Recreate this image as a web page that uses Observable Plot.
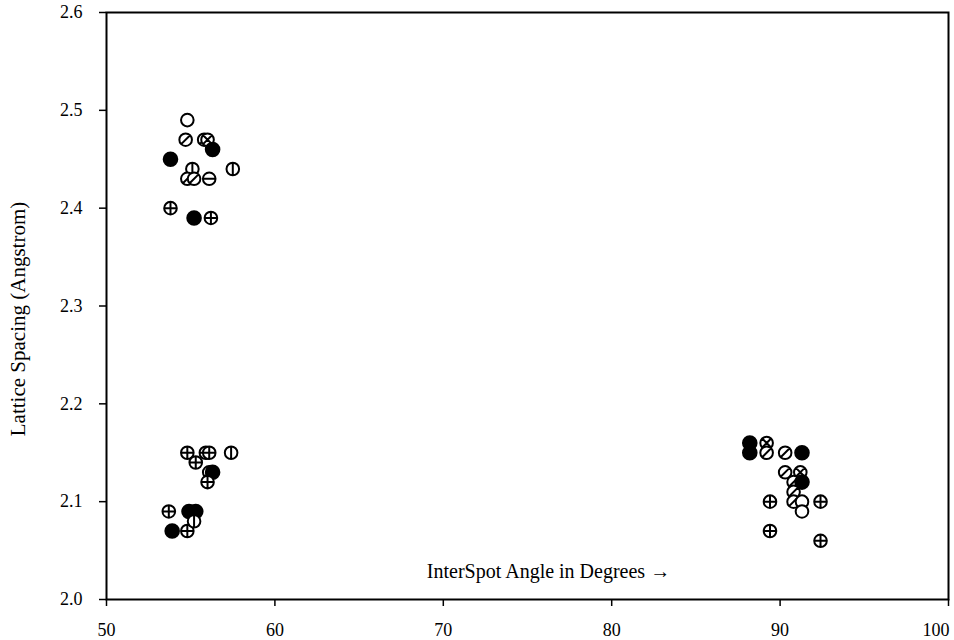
<!DOCTYPE html>
<html>
<head>
<meta charset="utf-8">
<script src="https://cdn.jsdelivr.net/npm/d3@7"></script>
<script src="https://cdn.jsdelivr.net/npm/@observablehq/plot@0.6"></script>
<style>
  html, body { margin: 0; padding: 0; background: #fff; }
  #chart svg { display: block; }
</style>
</head>
<body>
<div id="chart"></div>
<script>
// InterSpot angle (degrees)
const angles = [
  54.8, 54.7, 55.8, 56.0, 56.3, 53.8, 55.1, 54.8, 55.2, 56.1, 57.5, 53.8, 55.2, 56.2,
  54.8, 55.9, 56.1, 55.3, 57.4, 56.1, 56.3, 56.0,
  53.7, 54.9, 55.3, 53.9, 54.8, 55.2,
  88.2, 88.2, 89.2, 89.2, 90.3, 91.3, 90.3, 91.2, 90.8, 91.3, 90.8,
  89.4, 90.8, 91.3, 91.3, 92.4, 89.4, 92.4
];
// Lattice spacing (Angstrom)
const spacings = [
  2.49, 2.47, 2.47, 2.47, 2.46, 2.45, 2.44, 2.43, 2.43, 2.43, 2.44, 2.40, 2.39, 2.39,
  2.15, 2.15, 2.15, 2.14, 2.15, 2.13, 2.13, 2.12,
  2.09, 2.09, 2.09, 2.07, 2.07, 2.08,
  2.16, 2.15, 2.16, 2.15, 2.15, 2.15, 2.13, 2.13, 2.12, 2.12, 2.11,
  2.10, 2.10, 2.10, 2.09, 2.10, 2.07, 2.06
];
// marker style of each spot
const markers = [
  "open", "slash", "slash", "cross", "filled", "filled", "vline", "slash", "slash", "hline", "vline", "plus", "filled", "plus",
  "plus", "plus", "plus", "plus", "vline", "slash", "filled", "plus",
  "plus", "filled", "filled", "filled", "plus", "vline",
  "filled", "filled", "cross", "slash", "slash", "filled", "slash", "cross", "slash", "filled", "slash",
  "plus", "slash", "open", "open", "plus", "plus", "plus"
];
const xTicks = [50, 60, 70, 80, 90, 100];
const yTicks = [2.0, 2.1, 2.2, 2.3, 2.4, 2.5, 2.6];
const xLabel = "InterSpot Angle in Degrees \u2192";
const yLabel = "Lattice Spacing (Angstrom)";

const data = angles.map((a, i) => ({angle: a, spacing: spacings[i], marker: markers[i]}));

function makeSymbol(kind) {
  return {
    draw(context, size) {
      const r = Math.sqrt(size / Math.PI);
      const a = r * Math.SQRT1_2;
      context.moveTo(r, 0);
      context.arc(0, 0, r, 0, 2 * Math.PI);
      context.closePath();
      if (kind === "plus") {
        context.moveTo(-r, 0); context.lineTo(r, 0);
        context.moveTo(0, -r); context.lineTo(0, r);
      } else if (kind === "slash") {
        context.moveTo(-a, a); context.lineTo(a, -a);
      } else if (kind === "cross") {
        context.moveTo(-a, a); context.lineTo(a, -a);
        context.moveTo(-a, -a); context.lineTo(a, a);
      } else if (kind === "vline") {
        context.moveTo(0, -r); context.lineTo(0, r);
      } else if (kind === "hline") {
        context.moveTo(-r, 0); context.lineTo(r, 0);
      }
    }
  };
}

const dotMarks = data.map(d => Plot.dot([d], {
  x: "angle",
  y: "spacing",
  r: d.marker === "filled" ? 6.8 : 6.3,
  symbol: makeSymbol(d.marker),
  fill: d.marker === "filled" ? "black" : "white",
  stroke: "black",
  strokeWidth: 2
}));

const lastTick = xTicks[xTicks.length - 1];

const chart = Plot.plot({
  width: 954,
  height: 640,
  marginLeft: 106,
  marginRight: 6,
  marginTop: 12,
  marginBottom: 41,
  style: {fontFamily: "'Liberation Serif', 'Times New Roman', serif", fontSize: "18px", color: "black", background: "white"},
  x: {domain: [50, 100], label: null},
  y: {domain: [2.0, 2.6], label: null},
  marks: [
    Plot.frame({stroke: "black", strokeWidth: 2}),
    Plot.axisX({ticks: xTicks, tickFormat: d => d === lastTick ? "" : String(d), tickSize: 7, tickPadding: 17, label: null, stroke: "black", strokeWidth: 1.5, fontSize: 18}),
    Plot.axisX({ticks: [lastTick], tickFormat: d => String(d), tickSize: 0, tickPadding: 24, textAnchor: "end", dx: 1, label: null, fontSize: 18}),
    Plot.axisY({ticks: yTicks, tickFormat: d3.format(".1f"), tickSize: 7, tickPadding: 17, label: null, stroke: "black", strokeWidth: 1.5, fontSize: 18}),
    ...dotMarks,
    Plot.text([xLabel], {text: d => d, frameAnchor: "bottom", textAnchor: "middle", dx: 21, dy: -22, fontSize: 20, fill: "black"}),
    Plot.text([yLabel], {text: d => d, frameAnchor: "left", textAnchor: "middle", rotate: -90, dx: -88, dy: 13, fontSize: 21, fill: "black"})
  ]
});
document.getElementById("chart").appendChild(chart);
</script>
</body>
</html>
